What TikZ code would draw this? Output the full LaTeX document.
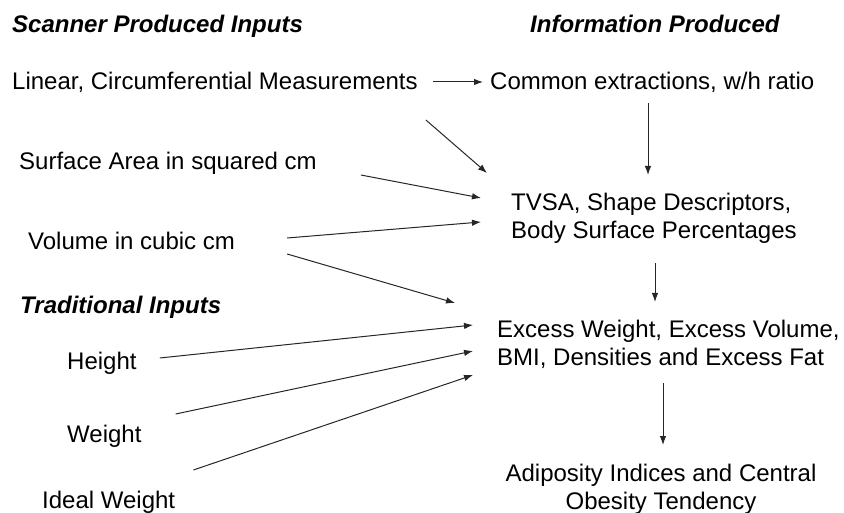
\documentclass[tikz,border=0pt]{standalone}
\usepackage{fontspec}
\setmainfont{Liberation Sans}
\usetikzlibrary{arrows.meta}

\tikzset{
  txt/.style={inner sep=0pt, font=\fontsize{24}{28}\selectfont},
  head/.style={inner sep=0pt, font=\fontsize{24}{28}\selectfont\bfseries\itshape},
  arr/.style={-{Latex[length=9pt,width=6.5pt]}, line width=1pt, black!85}
}

\begin{document}
\begin{tikzpicture}[x=1pt,y=-1pt]
  \useasboundingbox (0,0) rectangle (844,513);
  % headings
  \node[head,anchor=base west] (scan) at (12,33) {Scanner Produced Inputs};
  \node[head,anchor=base west] (info) at (530,33) {Information Produced};
  \node[head,anchor=base west] (trad) at (20,313) {Traditional Inputs};
  % inputs
  \node[txt,anchor=base west] (lin) at (12,90) {Linear, Circumferential Measurements};
  \node[txt,anchor=base west] (surf) at (19,170) {Surface Area in squared cm};
  \node[txt,anchor=base west] (vol) at (28,250) {Volume in cubic cm};
  \node[txt,anchor=base west] (hgt) at (67,370) {Height};
  \node[txt,anchor=base west] (wgt) at (67,442) {Weight};
  \node[txt,anchor=base west] (ideal) at (42,508) {Ideal Weight};
  % information
  \node[txt,anchor=base west] (com) at (490,90) {Common extractions, w/h ratio};
  \node[txt,anchor=north west,align=left] (tvsa) at (511,193)
    {TVSA, Shape Descriptors,\\Body Surface Percentages};
  \node[txt,anchor=north west,align=left] (exc) at (497,320)
    {Excess Weight, Excess Volume,\\BMI, Densities and Excess Fat};
  \node[txt,anchor=north,align=center] (adi) at (661,464)
    {Adiposity Indices and Central\\Obesity Tendency};

  % connectors
  \draw[arr] ([shift={(15,-8)}]lin.base east) -- ([shift={(-7,-8)}]com.base west);
  \draw[arr] ([shift={(158,13)}]com.base west) -- ([shift={(137,-18)}]tvsa.north west);
  \draw[arr] ([shift={(8,30)}]lin.base east) -- ([shift={(-24,-20)}]tvsa.north west);
  \draw[arr] ([shift={(44,5)}]surf.base east) -- ([shift={(-30,5)}]tvsa.north west);
  \draw[arr] ([shift={(52,-12)}]vol.base east) -- ([shift={(-30,29)}]tvsa.north west);
  \draw[arr] ([shift={(52,4)}]vol.base east) -- ([shift={(-42,-17)}]exc.north west);
  \draw[arr] ([shift={(23,-12)}]hgt.base east) -- ([shift={(-24,5)}]exc.north west);
  \draw[arr] ([shift={(34,-28)}]wgt.base east) -- ([shift={(-24,31)}]exc.north west);
  \draw[arr] ([shift={(18,-38)}]ideal.base east) -- ([shift={(-24,55)}]exc.north west);
  \draw[arr] ([shift={(144,70)}]tvsa.north west) -- ([shift={(158,-18)}]exc.north west);
  \draw[arr] ([shift={(166,63)}]exc.north west) -- ([shift={(2,-19)}]adi.north);
\end{tikzpicture}
\end{document}
